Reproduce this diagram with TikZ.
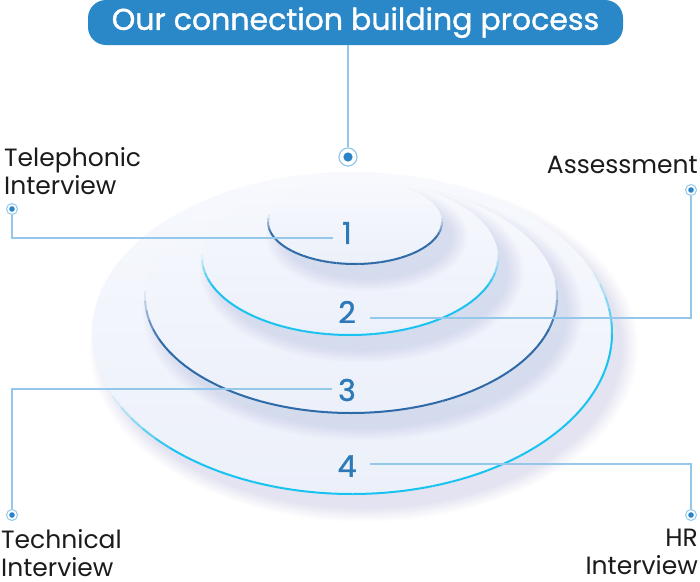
\documentclass[tikz,border=0pt]{standalone}
\usepackage{fontspec}
\setmainfont{Poppins}
\newfontfamily\medfont{Poppins}[FakeBold=1.2]
\usetikzlibrary{calc}
\definecolor{titleblue}{HTML}{2B88C8}
\definecolor{linec}{HTML}{93C8EA}
\definecolor{dotc}{HTML}{2A84C9}
\definecolor{numc}{HTML}{2E79B8}
\definecolor{darkarc}{HTML}{2F6AA8}
\definecolor{cyanarc}{HTML}{19C3F0}
\definecolor{textc}{HTML}{1B1B1B}
\definecolor{shadowc}{HTML}{A3AEE3}
\definecolor{disctop}{HTML}{F7F9FD}
\definecolor{discbot}{HTML}{ECF0FA}
\newcommand{\mydisc}[7]{%
  \foreach \j in {1,...,14}{%
    \pgfmathsetmacro\ex{(15-\j)*1.3}%
    \pgfmathsetmacro\rxx{#3+\ex-4}%
    \pgfmathsetmacro\ryy{#4+\ex*0.8-2}%
    \fill[shadowc, opacity=0.018] (#1+12,#2+15) ellipse [x radius=\rxx, y radius=\ryy];
  }
  \shade[top color=disctop, bottom color=discbot] (#1,#2) ellipse [x radius=#3, y radius=#4];
  \foreach \i in {0,...,39}{%
    \pgfmathsetmacro\aa{#6+(#7-#6)*\i/40}%
    \pgfmathsetmacro\bb{#6+(#7-#6)*(\i+1)/40}%
    \pgfmathsetmacro\op{min(1,2.5*sin(180*(\i+0.5)/40))}%
    \draw[#5, line width=2pt, opacity=\op] (#1,#2) ++(\aa:#3 and #4) arc[start angle=\aa, end angle=\bb, x radius=#3, y radius=#4];
  }
}
\begin{document}
\begin{tikzpicture}[x=1pt, y=-1pt,
  titlebox/.style={fill=titleblue, text=white, rounded corners=18pt, minimum width=535pt, minimum height=45pt, inner sep=0pt, font=\medfont\fontsize{30}{34}\selectfont},
  numlabel/.style={text=numc, inner sep=0pt, font=\medfont\fontsize{30}{34}\selectfont},
  steplabel/.style={text=textc, inner sep=0pt, font=\fontsize{25}{28}\selectfont},
  conn/.style={draw=linec, line width=1.4pt},
  pinsmall/.style={circle, draw=linec, line width=1pt, fill=white, minimum size=11pt, inner sep=0pt,
     path picture={\fill[dotc] (path picture bounding box.center) circle[radius=2.8pt];}},
  pinbig/.style={circle, draw=linec, line width=1.2pt, fill=white, minimum size=18pt, inner sep=0pt,
     path picture={\fill[dotc] (path picture bounding box.center) circle[radius=4.6pt];}}
]
\useasboundingbox (0,0) rectangle (700,581);
\fill[white] (0,0) rectangle (700,581);

% discs, back to front
\mydisc{352}{333}{260}{161}{cyanarc}{157}{-22}
\mydisc{351}{297}{206}{116}{darkarc}{183}{-8}
\mydisc{350}{257}{148}{78}{cyanarc}{182}{-2}
\mydisc{355}{222}{87}{42}{darkarc}{190}{-5}

% title
\node[titlebox] (title) at (355.5,22.5) {Our connection building process};

% numbers
\node[numlabel] (n1) at (347,233) {1};
\node[numlabel] (n2) at (347,312) {2};
\node[numlabel] (n3) at (347,390) {3};
\node[numlabel] (n4) at (347,466) {4};

% pins
\node[pinbig] (ptop) at (348,157) {};
\node[pinsmall] (pT) at (12,209) {};
\node[pinsmall] (pA) at (691,190) {};
\node[pinsmall] (pTe) at (12,515) {};
\node[pinsmall] (pH) at (691,515) {};

% connector ends near the numbers
\coordinate (e1) at (333,238);
\coordinate (e2) at (370,318);
\coordinate (e3) at (332,389);
\coordinate (e4) at (370,464);

% connectors
\draw[conn] (title.south -| ptop) -- (ptop);
\draw[conn] (pT) |- (e1);
\draw[conn] (pA) |- (e2);
\draw[conn] (pTe) |- (e3);
\draw[conn] (pH) |- (e4);

% labels
\node[steplabel, anchor=north west, align=left] (lT) at (4,147) {Telephonic\\Interview};
\node[steplabel, anchor=base east] (lA) at (698,173) {Assessment};
\node[steplabel, anchor=north west, align=left] (lTe) at (1,529) {Technical\\Interview};
\node[steplabel, anchor=north east, align=right] (lH) at (698,529) {HR\\Interview};
\end{tikzpicture}
\end{document}
